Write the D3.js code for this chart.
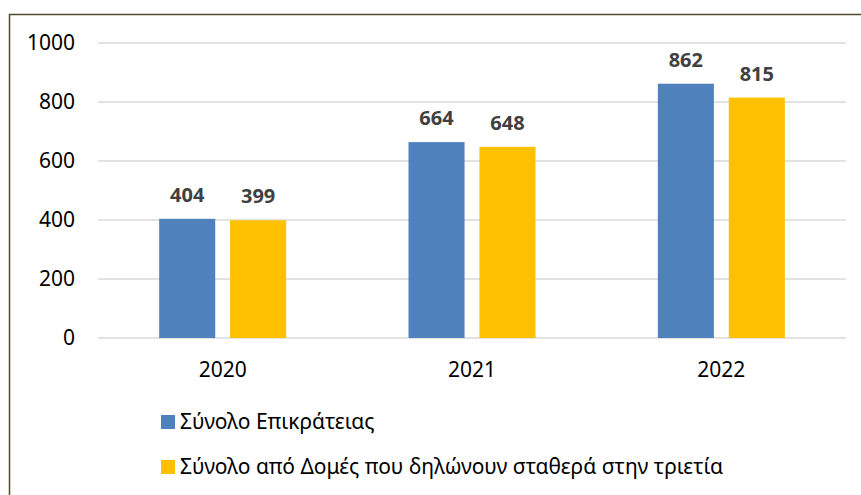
<!DOCTYPE html>
<html>
<head>
<meta charset="utf-8">
<script src="https://cdn.jsdelivr.net/npm/d3@7"></script>
<style>
  body { margin: 0; background: #fff; }
  svg { display: block; }
</style>
</head>
<body>
<div id="chart"></div>
<script>
// Chart data
const years = ["2020", "2021", "2022"];
const seriesNames = ["Σύνολο Επικράτειας", "Σύνολο από Δομές που δηλώνουν σταθερά στην τριετία"];
const totalValues = [404, 664, 862];
const stableValues = [399, 648, 815];
const yTicks = [0, 200, 400, 600, 800, 1000];
const colors = ["#4f81bd", "#ffc000"];

const width = 861;
const height = 495;
const margin = { top: 43, right: 15, bottom: 157, left: 98 };
const font = "'Noto Sans', sans-serif";

const svg = d3.select("#chart")
    .append("svg")
    .attr("width", width)
    .attr("height", height);

// Outer frame (only top and left edges are visible)
svg.append("path")
    .attr("d", `M9.5,${height} V14.5 H${width}`)
    .attr("fill", "none")
    .attr("stroke", "#4f4a2c")
    .attr("stroke-width", 1.5);

const x = d3.scaleBand()
    .domain(years)
    .range([margin.left, width - margin.right]);

const x1 = d3.scaleBand()
    .domain([0, 1])
    .range([x.bandwidth() / 2 - 63.5, x.bandwidth() / 2 + 63.5])
    .paddingInner(0.21);

const y = d3.scaleLinear()
    .domain([0, 1000])
    .range([height - margin.bottom, margin.top]);

// Gridlines
svg.append("g")
    .selectAll("line")
    .data(yTicks)
    .join("line")
    .attr("x1", margin.left)
    .attr("x2", width - margin.right)
    .attr("y1", d => y(d))
    .attr("y2", d => y(d))
    .attr("stroke", "#d9d9d9")
    .attr("stroke-width", 1.5);

// Y-axis labels
svg.append("g")
    .selectAll("text")
    .data(yTicks)
    .join("text")
    .attr("x", 75)
    .attr("y", d => y(d))
    .attr("dy", "0.35em")
    .attr("text-anchor", "end")
    .attr("font-family", font)
    .attr("font-size", 21)
    .attr("fill", "#000")
    .text(d => d);

// X-axis labels
svg.append("g")
    .selectAll("text")
    .data(years)
    .join("text")
    .attr("x", d => x(d) + x.bandwidth() / 2)
    .attr("y", 377)
    .attr("text-anchor", "middle")
    .attr("font-family", font)
    .attr("font-size", 21)
    .attr("fill", "#000")
    .text(d => d);

const rows = years.map((yr, i) => ({ year: yr, vals: [totalValues[i], stableValues[i]] }));

const groups = svg.append("g")
    .selectAll("g")
    .data(rows)
    .join("g")
    .attr("transform", d => `translate(${x(d.year)},0)`);

groups.selectAll("rect")
    .data(d => d.vals.map((v, k) => ({ v, k })))
    .join("rect")
    .attr("x", d => x1(d.k))
    .attr("y", d => y(d.v))
    .attr("width", x1.bandwidth())
    .attr("height", d => y(0) - y(d.v))
    .attr("fill", d => colors[d.k]);

groups.selectAll("text")
    .data(d => d.vals.map((v, k) => ({ v, k })))
    .join("text")
    .attr("x", d => x1(d.k) + x1.bandwidth() / 2)
    .attr("y", d => y(d.v) - 17)
    .attr("text-anchor", "middle")
    .attr("font-family", font)
    .attr("font-size", 20)
    .attr("font-weight", "bold")
    .attr("fill", "#404040")
    .text(d => d.v);

// Legend
const legend = svg.append("g")
    .selectAll("g")
    .data(seriesNames)
    .join("g")
    .attr("transform", (d, i) => `translate(161,${415 + i * 45})`);

legend.append("rect")
    .attr("width", 14)
    .attr("height", 14)
    .attr("fill", (d, i) => colors[i]);

legend.append("text")
    .attr("x", 19)
    .attr("y", 14)
    .attr("font-family", font)
    .attr("font-size", 21)
    .attr("fill", "#000")
    .text(d => d);
</script>
</body>
</html>
